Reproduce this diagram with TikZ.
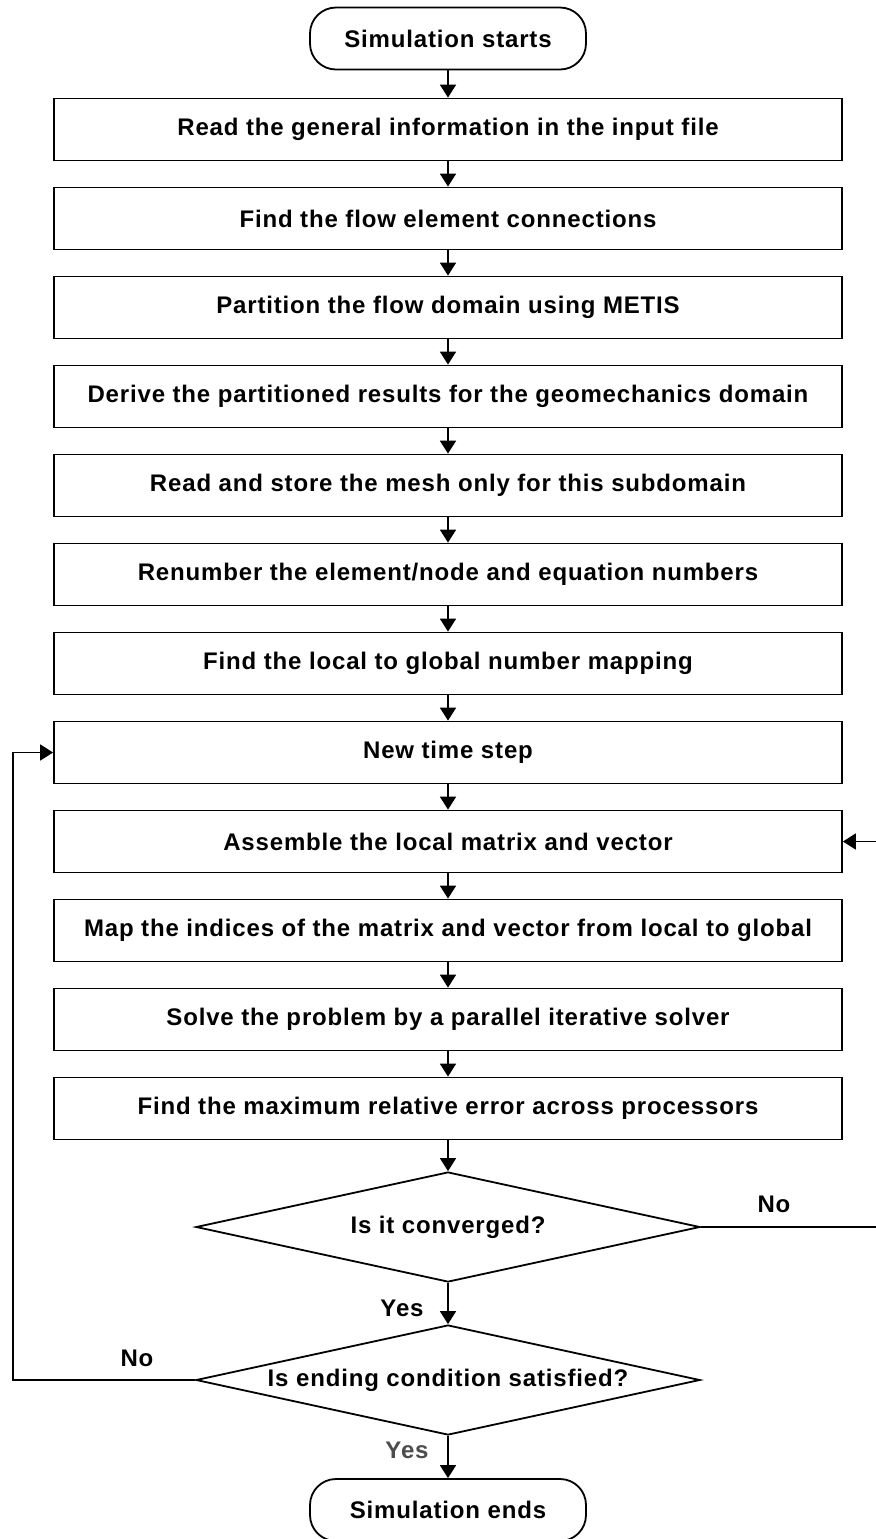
\documentclass[tikz,border=0pt]{standalone}
\usepackage{fontspec}
\setmainfont{Liberation Sans}[LetterSpace=3.5]
\usetikzlibrary{shapes.geometric,arrows.meta}

\begin{document}
\begin{tikzpicture}[x=0.5pt, y=-0.5pt,
    every node/.style={font=\fontsize{12}{14}\selectfont\bfseries},
    stepbox/.style={draw, line width=0.9pt, minimum width=394pt, minimum height=31pt, inner sep=0pt},
    terminal/.style={draw, line width=0.9pt, rounded corners=13pt, minimum width=138pt, minimum height=31pt, inner sep=0pt},
    decision/.style={draw, line width=0.9pt, diamond, aspect=4.6, minimum width=252pt, minimum height=55pt, inner sep=0pt},
    flow/.style={line width=0.9pt, -{Triangle[length=6.5pt,width=8pt]}},
    answer/.style={inner sep=0pt}]

    \useasboundingbox (0,0) rectangle (875,1539);

    % start and steps
    \node[terminal] (start) at (448,38.5) {Simulation starts};
    \node[stepbox] (read)     at (448,129.5)  {Read the general information in the input file};
    \node[stepbox] (conn)     at (448,218.5)  {Find the flow element connections};
    \node[stepbox] (metis)    at (448,307.5)  {Partition the flow domain using METIS};
    \node[stepbox] (derive)   at (448,396.5)  {Derive the partitioned results for the geomechanics domain};
    \node[stepbox] (mesh)     at (448,485.5)  {Read and store the mesh only for this subdomain};
    \node[stepbox] (renum)    at (448,574.5)  {Renumber the element/node and equation numbers};
    \node[stepbox] (mapping)  at (448,663.5)  {Find the local to global number mapping};
    \node[stepbox] (newstep)  at (448,752.5)  {New time step};
    \node[stepbox] (assemble) at (448,841.5)  {Assemble the local matrix and vector};
    \node[stepbox] (indices)  at (448,930.5)  {Map the indices of the matrix and vector from local to global};
    \node[stepbox] (solve)    at (448,1019.5) {Solve the problem by a parallel iterative solver};
    \node[stepbox] (maxerr)   at (448,1108.5) {Find the maximum relative error across processors};

    % decisions
    \node[decision] (conv) at (448,1227) {Is it converged?};
    \node[decision] (ending) at (448,1380) {Is ending condition satisfied?};
    \node[terminal] (stop) at (448,1510) {Simulation ends};

    \draw[flow] (start) -- (read);
    \draw[flow] (read) -- (conn);
    \draw[flow] (conn) -- (metis);
    \draw[flow] (metis) -- (derive);
    \draw[flow] (derive) -- (mesh);
    \draw[flow] (mesh) -- (renum);
    \draw[flow] (renum) -- (mapping);
    \draw[flow] (mapping) -- (newstep);
    \draw[flow] (newstep) -- (assemble);
    \draw[flow] (assemble) -- (indices);
    \draw[flow] (indices) -- (solve);
    \draw[flow] (solve) -- (maxerr);
    \draw[flow] (maxerr) -- (conv);
    \draw[flow] (conv) -- (ending);
    \draw[flow] (ending) -- (stop);

    % loops back
    \coordinate (rightturn) at (878,1227);
    \coordinate (righttop) at (878,841.5);
    \coordinate (leftturn) at (13,1380);
    \coordinate (lefttop) at (13,752.5);
    \draw[flow] (conv.east) -- (rightturn) -- (righttop) -- (assemble.east);
    \draw[flow] (ending.west) -- (leftturn) -- (lefttop) -- (newstep.west);

    % answers
    \node[answer] (noright) at (774,1204) {No};
    \node[answer] (yesconv) at (402,1308) {Yes};
    \node[answer] (noleft) at (137,1358) {No};
    \node[answer, text=black!70] (yesend) at (407,1450) {Yes};

\end{tikzpicture}
\end{document}
